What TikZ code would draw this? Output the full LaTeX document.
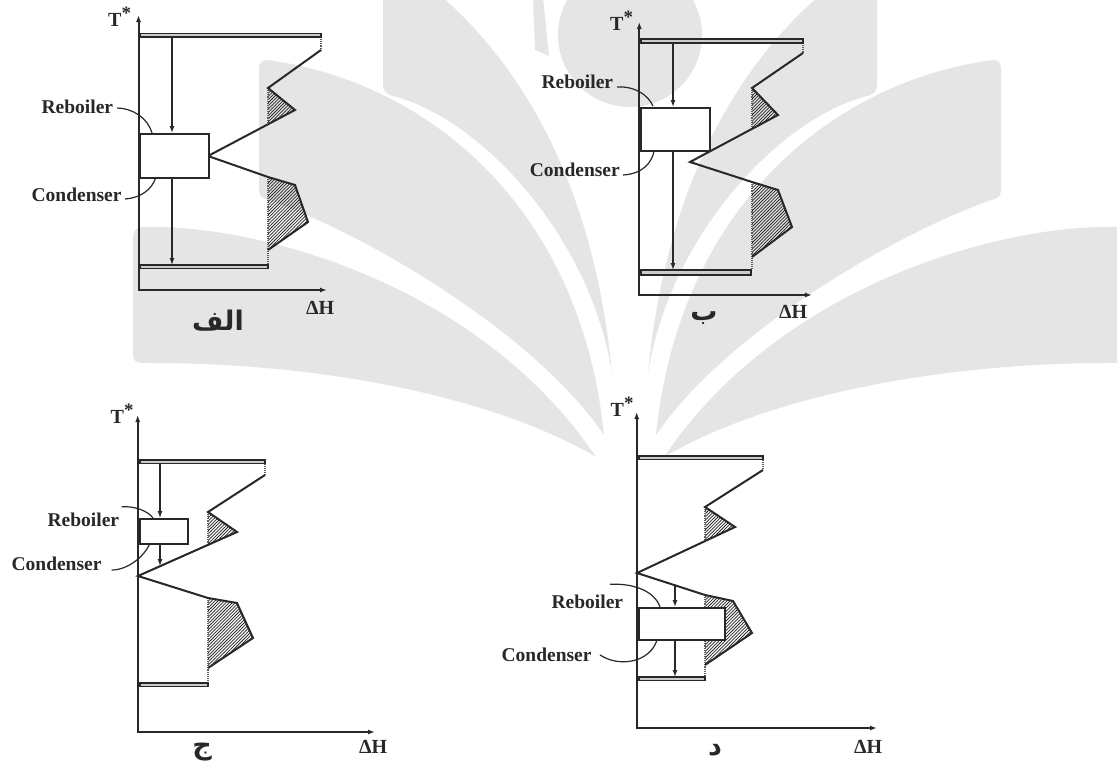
\documentclass[tikz,border=0pt]{standalone}
\usepackage{fontspec}
\setmainfont{Liberation Serif}
\newfontfamily\arabicfont[Script=Arabic]{DejaVu Sans}
\TeXXeTstate=1
\usetikzlibrary{arrows.meta,patterns}
\definecolor{wm}{RGB}{229,229,229}
\definecolor{ink}{RGB}{40,40,40}
\pgfdeclarepatternformonly{hatchd}{\pgfqpoint{-1pt}{-1pt}}{\pgfqpoint{4pt}{4pt}}{\pgfqpoint{3.2pt}{3.2pt}}{%
  \pgfsetlinewidth{0.75pt}%
  \pgfpathmoveto{\pgfqpoint{-0.1pt}{-0.1pt}}%
  \pgfpathlineto{\pgfqpoint{3.3pt}{3.3pt}}%
  \pgfusepath{stroke}}
\tikzset{
  axisline/.style={draw=ink, line width=2pt, {Latex[length=7pt,width=5pt]}-{Latex[length=7pt,width=5pt]}},
  dbl/.style={draw=ink, fill=gray!40, line width=1.1pt},
  dotv/.style={draw=ink!75, line width=1.1pt, densely dotted},
  curvel/.style={draw=ink, line width=2pt, line join=miter},
  hatchfill/.style={pattern=hatchd, pattern color=ink},
  boxs/.style={draw=ink, fill=white, line width=1.8pt, inner sep=0pt},
  arr/.style={draw=ink, line width=1.3pt, -{Latex[length=7pt,width=5pt]}},
  lead/.style={draw=ink, line width=1.2pt},
  lbl/.style={inner sep=0pt, font=\fontsize{19.5}{22}\selectfont\bfseries, text=ink},
  tlbl/.style={inner sep=0pt, font=\fontsize{20}{22}\selectfont\bfseries, text=ink},
  albl/.style={inner sep=0pt, font=\fontsize{27}{30}\selectfont\arabicfont\bfseries, text=ink}
}
\newcommand{\tstar}{T\raisebox{0.35em}{\fontsize{19}{19}\selectfont *}}
\begin{document}
\begin{tikzpicture}[x=1pt,y=-1pt]
\useasboundingbox (0,0) rectangle (1117,771);
\fill[white] (0,0) rectangle (1117,771);
% ---------------- watermark ----------------
\fill[wm] (630,35) circle[radius=72];
\fill[wm] (533,-2) -- (543,-2) -- (549,56) -- (535,50) -- cycle;
\foreach \o/\s in {0/1,1260/-1}{
\begin{scope}[shift={(\o,0)}, xscale=\s]
\fill[wm] (133,237) -- (133,355) .. controls (133,361) and (137,363) .. (143,363)
  .. controls (330,362) and (500,400) .. (596,457)
  .. controls (480,285) and (260,224) .. (143,227)
  .. controls (137,227) and (133,231) .. (133,237) -- cycle;
\fill[wm] (259,68) -- (259,190) .. controls (259,196) and (263,199) .. (269,200)
  .. controls (380,240) and (540,340) .. (604,435)
  .. controls (580,200) and (420,80) .. (267,60)
  .. controls (262,60) and (259,63) .. (259,68) -- cycle;
\fill[wm] (383,-5) -- (383,85) .. controls (383,91) and (387,95) .. (393,96)
  .. controls (480,118) and (590,235) .. (612,373)
  .. controls (600,250) and (560,100) .. (440,-5) -- cycle;
\end{scope}}
% ---------------- panel alef ----------------
\coordinate (aO) at (138.5,290);
\coordinate (aY) at (138.5,15);
\coordinate (aX) at (327,290);
\fill[hatchfill] (268,88) -- (295,110) -- (268,124.3) -- cycle;
\fill[hatchfill] (268,177) -- (295,185) -- (308,222) -- (268,250) -- cycle;
\draw[dotv] (268,88) -- (268,124.3);
\draw[dotv] (268,177) -- (268,265);
\draw[dotv] (321,37) -- (321,50);
\draw[dbl] (140,33.5) rectangle (321,37);
\draw[dbl] (140,265) rectangle (268,268.5);
\draw[curvel] (321,50) -- (268,88) -- (295,110) -- (208,156) -- (268,177) -- (295,185) -- (308,222) -- (268,250);
\node[boxs, minimum width=69pt, minimum height=44pt, anchor=north west] (aBox) at (139,133) {};
\draw[axisline] (aY) -- (aO) -- (aX);
\coordinate (aA) at (172,37);
\coordinate (aB) at (172,265);
\draw[arr] (aA) -- (aA |- aBox.north);
\draw[arr] (aA |- aBox.south) -- (aB);
\node[lbl, anchor=base east] (aReb) at (113.3,113) {Reboiler};
\node[lbl, anchor=base east] (aCon) at (121.7,201) {Condenser};
\coordinate (aRs) at (117,108);
\coordinate (aRe) at (152,133);
\coordinate (aCs) at (125,199);
\coordinate (aCe) at (156,177);
\draw[lead] (aRs) .. controls (132,108) and (148,118) .. (aRe);
\draw[lead] (aCs) .. controls (140,198) and (152,190) .. (aCe);
\node[tlbl, anchor=base west] (aT) at (108,27) {\tstar};
\node[tlbl, anchor=base west] (aH) at (306,314) {ΔH};
\node[albl] (aL) at (218,321) {\beginR الف\endR};
% ---------------- panel be ----------------
\coordinate (bO) at (639.3,295);
\coordinate (bY) at (639.3,22);
\coordinate (bX) at (812,295);
\fill[hatchfill] (752,88) -- (778,115) -- (752,128.9) -- cycle;
\fill[hatchfill] (752,182) -- (778,190) -- (792,227) -- (752,257) -- cycle;
\draw[dotv] (752,88) -- (752,128.9);
\draw[dotv] (752,182) -- (752,270);
\draw[dotv] (803,43) -- (803,53);
\draw[dbl] (641,39) rectangle (803,43);
\draw[dbl] (641,270) rectangle (751,275);
\draw[curvel] (803,53) -- (752,88) -- (778,115) -- (690,162) -- (752,182) -- (778,190) -- (792,227) -- (752,257);
\node[boxs, minimum width=69pt, minimum height=43pt, anchor=north west] (bBox) at (640,107) {};
\draw[axisline] (bY) -- (bO) -- (bX);
\coordinate (bA) at (673,43);
\coordinate (bB) at (673,270);
\draw[arr] (bA) -- (bA |- bBox.north);
\draw[arr] (bA |- bBox.south) -- (bB);
\node[lbl, anchor=base east] (bReb) at (613.3,88.3) {Reboiler};
\node[lbl, anchor=base east] (bCon) at (620,176.7) {Condenser};
\coordinate (bRs) at (617,87);
\coordinate (bRe) at (653,106);
\coordinate (bCs) at (623,175);
\coordinate (bCe) at (654,151);
\draw[lead] (bRs) .. controls (635,86) and (648,95) .. (bRe);
\draw[lead] (bCs) .. controls (642,174) and (652,163) .. (bCe);
\node[tlbl, anchor=base west] (bT) at (610,30.5) {\tstar};
\node[tlbl, anchor=base west] (bH) at (779,318) {ΔH};
\node[albl] (bL) at (704,318) {\beginR ب\endR};
% ---------------- panel jim ----------------
\coordinate (cO) at (137.7,732);
\coordinate (cY) at (137.7,415);
\coordinate (cX) at (375,732);
\fill[hatchfill] (208,512) -- (237,532) -- (208,544.9) -- cycle;
\fill[hatchfill] (208,598) -- (237,603) -- (253,638) -- (208,668) -- cycle;
\draw[dotv] (208,512) -- (208,544.9);
\draw[dotv] (208,598) -- (208,683);
\draw[dotv] (265,463.5) -- (265,475);
\draw[dbl] (140,460) rectangle (265,463.5);
\draw[dbl] (140,683) rectangle (208,686.5);
\draw[curvel] (265,475) -- (208,512) -- (237,532) -- (138,576) -- (208,598) -- (237,603) -- (253,638) -- (208,668);
\node[boxs, minimum width=48pt, minimum height=25pt, anchor=north west] (cBox) at (139,518) {};
\draw[axisline] (cY) -- (cO) -- (cX);
\coordinate (cA) at (160,463.5);
\coordinate (cB) at (160,566);
\draw[arr] (cA) -- (cA |- cBox.north);
\draw[arr] (cA |- cBox.south) -- (cB);
\node[lbl, anchor=base east] (cReb) at (119.3,526.7) {Reboiler};
\node[lbl, anchor=base east] (cCon) at (101.7,570) {Condenser};
\coordinate (cRs) at (121.7,506.7);
\coordinate (cRe) at (153,518);
\coordinate (cCs) at (111.7,570);
\coordinate (cCe) at (150,543);
\draw[lead] (cRs) .. controls (135,506) and (148,511) .. (cRe);
\draw[lead] (cCs) .. controls (128,570) and (145,556) .. (cCe);
\node[tlbl, anchor=base west] (cT) at (110.5,423.3) {\tstar};
\node[tlbl, anchor=base west] (cH) at (359,753) {ΔH};
\node[albl] (cL) at (202,752) {\beginR ج\endR};
% ---------------- panel dal ----------------
\coordinate (dO) at (636.7,728);
\coordinate (dY) at (636.7,412);
\coordinate (dX) at (877,728);
\fill[hatchfill] (705,507) -- (735,527) -- (705,541.1) -- cycle;
\fill[hatchfill] (705,595) -- (733,601) -- (752,633) -- (705,665) -- cycle;
\draw[dotv] (705,507) -- (705,541.1);
\draw[dotv] (705,595) -- (705,677);
\draw[dotv] (763,459.5) -- (763,470);
\draw[dbl] (639,456) rectangle (763,459.5);
\draw[dbl] (639,677) rectangle (705,680.5);
\draw[curvel] (763,470) -- (705,507) -- (735,527) -- (637,573) -- (705,595) -- (733,601) -- (752,633) -- (705,665);
\node[boxs, minimum width=86pt, minimum height=32pt, anchor=north west] (dBox) at (638,607) {};
\draw[axisline] (dY) -- (dO) -- (dX);
\coordinate (dA) at (675,585.3);
\coordinate (dB) at (675,677);
\draw[arr] (dA) -- (dA |- dBox.north);
\draw[arr] (dA |- dBox.south) -- (dB);
\node[lbl, anchor=base east] (dReb) at (623.3,608.3) {Reboiler};
\node[lbl, anchor=base east] (dCon) at (591.7,661.7) {Condenser};
\coordinate (dRs) at (610,584.3);
\coordinate (dRe) at (660,607);
\coordinate (dCs) at (600,655);
\coordinate (dCe) at (657,640);
\draw[lead] (dRs) .. controls (635,583) and (655,592) .. (dRe);
\draw[lead] (dCs) .. controls (620,668) and (650,662) .. (dCe);
\node[tlbl, anchor=base west] (dT) at (610.5,416.7) {\tstar};
\node[tlbl, anchor=base west] (dH) at (854,753) {ΔH};
\node[albl] (dL) at (715,750) {\beginR د\endR};
\end{tikzpicture}
\end{document}
